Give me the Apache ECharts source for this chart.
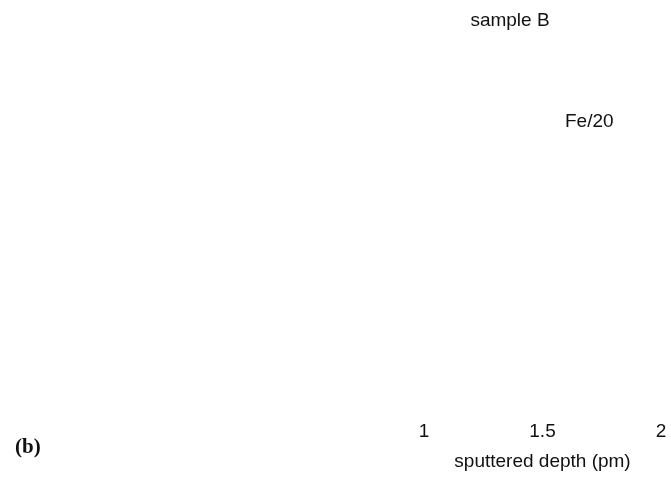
<!DOCTYPE html>
<html>
<head>
<meta charset="utf-8">
<script src="https://cdn.jsdelivr.net/npm/echarts@6/dist/echarts.min.js"></script>
<style>html,body{margin:0;padding:0;background:#fff}#c{width:671px;height:478px}</style>
</head>
<body>
<div id="c"></div>
<script>
const xTicks = [1, 1.5, 2];
const xName = 'sputtered depth (pm)';
const titleText = 'sample B';
const seriesLabels = ['Fe/20'];
const panelLabel = '(b)';

const chart = echarts.init(document.getElementById('c'), null, {renderer: 'canvas'});
chart.setOption({
  backgroundColor: '#ffffff',
  animation: false,
  title: {
    text: titleText,
    left: 510, top: 11, textAlign: 'center', padding: 0,
    textStyle: {fontFamily: 'Liberation Sans', fontSize: 19, fontWeight: 'normal', color: '#111'}
  },
  grid: {left: 424, right: 10, top: 40, bottom: 66},
  xAxis: {
    type: 'value', min: xTicks[0], max: xTicks[xTicks.length - 1], interval: 0.5,
    name: xName, nameLocation: 'middle', nameGap: 40,
    nameTextStyle: {fontFamily: 'Liberation Sans', fontSize: 19, color: '#111'},
    axisLine: {show: false}, axisTick: {show: false}, splitLine: {show: false},
    axisLabel: {fontFamily: 'Liberation Sans', fontSize: 19, color: '#111', margin: 10,
      formatter: v => String(v)}
  },
  yAxis: {type: 'value', show: false, min: 0, max: 1},
  series: [],
  graphic: [
    {type: 'text', left: 565, top: 112,
      style: {text: seriesLabels[0], font: '19px "Liberation Sans"', fill: '#111'}},
    {type: 'text', left: 15, top: 437,
      style: {text: panelLabel, font: 'bold 21px "Liberation Serif"', fill: '#111'}}
  ]
});
</script>
</body>
</html>
